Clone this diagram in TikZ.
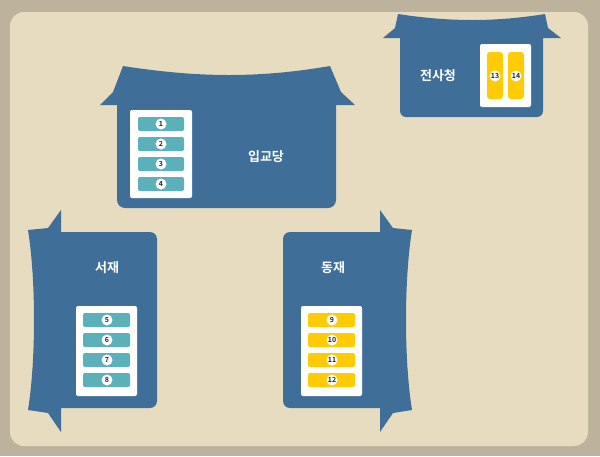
\documentclass[tikz,border=0pt]{standalone}
\usepackage{fontspec}
\setmainfont{Noto Sans CJK KR}
\newfontfamily\kr{Noto Sans CJK KR Bold}
\begin{document}
\begin{tikzpicture}[x=1pt,y=-1pt,
  bldg/.style={fill=hblue},
  listbox/.style={fill=white,rounded corners=2pt},
  title/.style={text=white,font=\kr\fontsize{13}{13}\selectfont},
  num/.style={circle,fill=white,inner sep=0pt,minimum size=11pt,font=\kr\fontsize{7}{7}\selectfont,text=black!85}]
\definecolor{hblue}{HTML}{3F6F99}
\definecolor{teal1}{HTML}{5BB0BA}
\definecolor{yel}{HTML}{FFCB05}
\definecolor{bgout}{HTML}{BDB39C}
\definecolor{bgin}{HTML}{E8DCC0}
\fill[bgout] (0,0) rectangle (600,456);
\fill[bgin,rounded corners=14pt] (10,12) rectangle (588,446);
% 입교당
\fill[bldg] (123,66) .. controls (200,78) and (260,78) .. (330,66) -- (341,92) -- (355,105) -- (336,105)
  [rounded corners=8pt] -- (336,208) -- (117,208) [sharp corners] -- (117,105) -- (100,105) -- (113,92) -- cycle;
\fill[listbox] (130,110) rectangle (192,198);
\foreach \i/\y in {1/124,2/144,3/164,4/184}{
  \fill[teal1,rounded corners=2pt] (138,\y-7) rectangle (184,\y+7);
  \node[num] (n\i) at (161,\y) {\i};}
\node[title] (t1) at (266,157) {입교당};
% 전사청
\fill[bldg] (398,14) .. controls (450,22) and (495,22) .. (545,14) -- (548,28) -- (561,38) -- (543,38)
  [rounded corners=6pt] -- (543,117) -- (400,117) [sharp corners] -- (400,38) -- (383,38) -- (395,28) -- cycle;
\fill[listbox] (480,44) rectangle (531,107);
\fill[yel,rounded corners=3pt] (487,52) rectangle (503,99);
\fill[yel,rounded corners=3pt] (508,52) rectangle (524,99);
\node[num] (n13) at (495,76) {13};
\node[num] (n14) at (516,76) {14};
\node[title] (t2) at (438,76) {전사청};
% 서재
\fill[bldg] (61,210) -- (61,232) [rounded corners=7pt] -- (157,232) -- (157,408) [sharp corners] -- (61,408) -- (61,432)
  -- (48,413) -- (28,410) .. controls (36,360) and (36,280) .. (28,230) -- (48,228) -- cycle;
\fill[listbox] (76,306) rectangle (137,396);
\foreach \i/\y in {5/320,6/340,7/360,8/380}{
  \fill[teal1,rounded corners=2pt] (83,\y-7) rectangle (130,\y+7);
  \node[num] (n\i) at (107,\y) {\i};}
\node[title] (t3) at (107,268) {서재};
% 동재
\fill[bldg] (380,210) -- (380,232) [rounded corners=7pt] -- (283,232) -- (283,408) [sharp corners] -- (380,408) -- (380,432)
  -- (393,413) -- (412,410) .. controls (404,360) and (404,280) .. (412,230) -- (393,228) -- cycle;
\fill[listbox] (301,306) rectangle (362,396);
\foreach \i/\y in {9/320,10/340,11/360,12/380}{
  \fill[yel,rounded corners=2pt] (308,\y-7) rectangle (355,\y+7);
  \node[num] (n\i) at (332,\y) {\i};}
\node[title] (t4) at (333,268) {동재};
\end{tikzpicture}
\end{document}
